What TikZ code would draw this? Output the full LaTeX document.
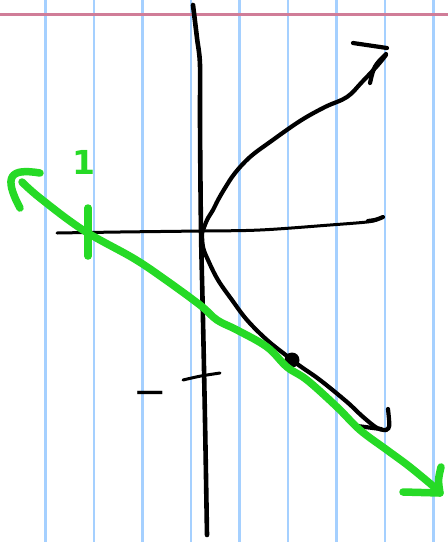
\documentclass[tikz,border=0pt]{standalone}
\usepackage{fontspec}
\newfontfamily\djv{DejaVu Sans}
\begin{document}
\begin{tikzpicture}[x=1pt,y=-1pt,
  gridline/.style={draw=gridblue,line width=2.2pt},
  ink/.style={draw=black,line width=4.2pt,line cap=round,line join=round},
  thinink/.style={draw=black,line width=3pt,line cap=round,line join=round},
  greenpen/.style={draw=pengreen,line width=7.5pt,line cap=round,line join=round}]
\definecolor{gridblue}{RGB}{165,208,255}
\definecolor{marginpink}{RGB}{208,125,152}
\definecolor{pengreen}{RGB}{38,218,38}
\useasboundingbox[fill=white] (0,0) rectangle (448,542);
% ruled paper
\foreach \k in {0,...,8} {
  \draw[gridline] ({45.5+48.5*\k},0) -- ({45.5+48.5*\k},542);
}
\draw[draw=marginpink,line width=2.4pt] (0,14.3) -- (448,14.3);
% vertical axis
\draw[ink,line width=4.6pt] plot[smooth,tension=0.6] coordinates {(193,5) (197,38) (200,65) (200,120) (201,230) (203,320) (205,420) (207,535)};
% horizontal axis
\draw[thinink] plot[smooth,tension=0.6] coordinates {(57,233) (120,232) (200,231) (260,230) (330,225) (367,222) (376,220)};
\draw[ink] (368,221) .. controls (376,220) .. (383,217);
% upper branch
\draw[ink] plot[smooth,tension=0.6] coordinates {(202,233) (207,220) (213,210) (218,200) (225,188) (235,173) (250,157) (270,142) (300,121) (325,107) (347,97) (362,82) (377,66) (386,55)};
\draw[ink] (353,43) -- (387,48);
\draw[ink] (386,54) .. controls (374,66) .. (370,83);
% lower branch
\draw[ink] plot[smooth,tension=0.6] coordinates {(202,233) (203,247) (208,260) (218,280) (232,300) (247,320) (267,340) (287,356) (300,366) (320,380) (347,402) (362,416) (377,428) (386,430)};
\draw[ink] (386,430) .. controls (390,428) .. (388,409);
\draw[ink] (357,426) -- (381,429);
% point
\fill (292,360) circle (7.5);
% tick on y axis and label
\draw[thinink] (183,380) .. controls (200,376) .. (220,373);
\node[font=\djv\fontsize{40}{40}\selectfont,inner sep=0pt,anchor=base] (minus) at (150,405) {−};
% green line
\draw[greenpen] plot[smooth,tension=0.6] coordinates {(22,182) (40,198) (83,230) (133,258) (163,278) (200,305) (217,320) (237,330) (267,347) (287,367) (307,380) (337,407) (360,430) (387,450) (410,467) (439,491)};
\draw[greenpen] (40,173) .. controls (10,168) and (3,176) .. (20,208);
\draw[greenpen] (403,492) -- (440,493);
\draw[greenpen] (441,467) .. controls (438,480) .. (440,493);
% green tick and label
\draw[greenpen] (88,208) -- (88,256);
\node[font=\djv\bfseries\fontsize{33}{33}\selectfont,text=pengreen,inner sep=0pt,anchor=base] (one) at (84,174) {1};
\end{tikzpicture}
\end{document}
